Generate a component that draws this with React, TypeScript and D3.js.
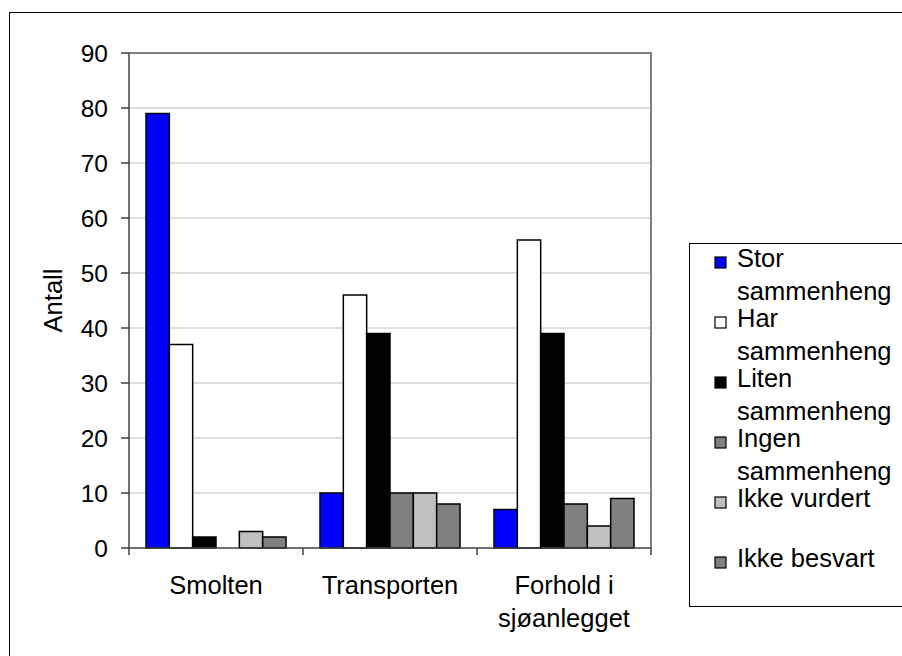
import React from "react";
import * as d3 from "d3";

const categories: string[][] = [["Smolten"], ["Transporten"], ["Forhold i", "sjøanlegget"]];
const seriesNames: string[][] = [
  ["Stor", "sammenheng"],
  ["Har", "sammenheng"],
  ["Liten", "sammenheng"],
  ["Ingen", "sammenheng"],
  ["Ikke vurdert"],
  ["Ikke besvart"],
];
const seriesColors: string[] = ["#0000FF", "#FFFFFF", "#000000", "#808080", "#C0C0C0", "#808080"];
const storValues: number[] = [79, 10, 7];
const harValues: number[] = [37, 46, 56];
const litenValues: number[] = [2, 39, 39];
const ingenValues: number[] = [0, 10, 8];
const vurdertValues: number[] = [3, 10, 4];
const besvartValues: number[] = [2, 8, 9];
const seriesValues: number[][] = [storValues, harValues, litenValues, ingenValues, vurdertValues, besvartValues];
const yTicks: number[] = [0, 10, 20, 30, 40, 50, 60, 70, 80, 90];
const yLabel = "Antall";

const FONT = "'Liberation Sans', Arial, sans-serif";
const FS = 25.5;

export default function App() {
  const W = 902, H = 656;
  const left = 129, right = 651, top = 53, bottom = 548;
  const y = d3.scaleLinear().domain([0, 90]).range([bottom, top]);
  const x0 = d3.scaleBand<number>().domain(categories.map((_, i) => i)).range([left, right]).padding(0);
  const x1 = d3.scaleBand<number>().domain(seriesNames.map((_, i) => i)).range([17, x0.bandwidth() - 17]).padding(0);

  const legX = 689, legY = 243;
  const entryStep = 60;
  const lineGap = 33;

  return (
    <svg width={W} height={H} style={{ position: "absolute", left: 0, top: 0, display: "block" }} fontFamily={FONT}>
      <rect x={0} y={0} width={W} height={H} fill="#fff" />
      <rect x={9.5} y={12.5} width={W + 10} height={H + 10} fill="none" stroke="#000" strokeWidth={1} />
      {yTicks.filter((t) => t > 0 && t < 90).map((t) => (
        <line key={"g" + t} x1={left} x2={right} y1={y(t)} y2={y(t)} stroke="#BDBDBD" strokeWidth={1} />
      ))}
      <polyline points={`${left},${top} ${right},${top} ${right},${bottom}`} fill="none" stroke="#808080" strokeWidth={2} />
      {seriesValues.map((vals, s) =>
        vals.map((v, c) =>
          v > 0 ? (
            <rect
              key={`b${s}-${c}`}
              x={(x0(c) ?? 0) + (x1(s) ?? 0)}
              y={y(v)}
              width={x1.bandwidth()}
              height={y(0) - y(v)}
              fill={seriesColors[s]}
              stroke="#000"
              strokeWidth={1.5}
            />
          ) : null
        )
      )}
      <line x1={left} x2={left} y1={top} y2={bottom + 7} stroke="#404040" strokeWidth={1.5} />
      {yTicks.map((t) => (
        <g key={"t" + t}>
          <line x1={left - 8} x2={left} y1={y(t)} y2={y(t)} stroke="#404040" strokeWidth={1.5} />
          <text x={108} y={y(t)} dy="0.36em" textAnchor="end" fontSize={24.5} fill="#000">
            {t}
          </text>
        </g>
      ))}
      <line x1={left} x2={right} y1={bottom} y2={bottom} stroke="#404040" strokeWidth={1.5} />
      {categories.map((_, c) => (
        <line key={"xt" + c} x1={(x0(c) ?? 0) + x0.bandwidth()} x2={(x0(c) ?? 0) + x0.bandwidth()} y1={bottom} y2={bottom + 7} stroke="#404040" strokeWidth={1.5} />
      ))}
      {categories.map((lines, c) => (
        <text key={"c" + c} x={(x0(c) ?? 0) + x0.bandwidth() / 2} y={594} textAnchor="middle" fontSize={FS} fill="#000">
          {lines.map((l, i) => (
            <tspan key={i} x={(x0(c) ?? 0) + x0.bandwidth() / 2} dy={i === 0 ? 0 : 33}>
              {l}
            </tspan>
          ))}
        </text>
      ))}
      <text transform={`translate(62,${(top + bottom) / 2}) rotate(-90)`} textAnchor="middle" fontSize={FS} fill="#000">
        {yLabel}
      </text>
      <rect x={legX + 0.5} y={legY + 0.5} width={W} height={606 - legY} fill="#fff" stroke="#000" strokeWidth={1} />
      {seriesNames.map((lines, s) => {
        const base = 267 + s * entryStep;
        return (
          <g key={"l" + s}>
            <rect x={715} y={base - 10} width={11} height={11} fill={seriesColors[s]} stroke="#000" strokeWidth={1.2} />
            <text x={737} y={base} fontSize={FS} fill="#000">
              {lines.map((l, i) => (
                <tspan key={i} x={737} dy={i === 0 ? 0 : lineGap}>
                  {l}
                </tspan>
              ))}
            </text>
          </g>
        );
      })}
    </svg>
  );
}
